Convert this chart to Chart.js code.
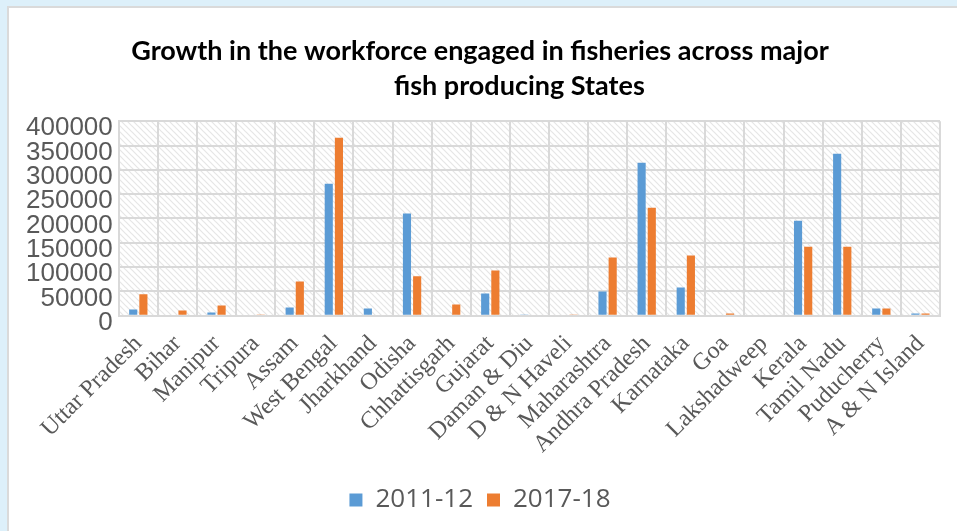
<!DOCTYPE html>
<html>
<head>
<meta charset="utf-8">
<script src="https://cdn.jsdelivr.net/npm/chart.js@4/dist/chart.umd.min.js"></script>
<style>
  html, body { margin: 0; padding: 0; background: #ddf0fa; overflow: hidden; }
  #panel { position: absolute; left: 7px; top: 6px; width: 980px; height: 560px; background: #fff; border: 2px solid #dadada; }
  #wrap { position: absolute; left: 0; top: 0; width: 957px; height: 531px; }
</style>
</head>
<body>
<div id="panel"></div>
<div id="wrap"><canvas id="barChart" width="957" height="531"></canvas></div>
<script>
var states = ['Uttar Pradesh', 'Bihar', 'Manipur', 'Tripura', 'Assam', 'West Bengal', 'Jharkhand', 'Odisha', 'Chhattisgarh', 'Gujarat', 'Daman & Diu', 'D & N Haveli', 'Maharashtra', 'Andhra Pradesh', 'Karnataka', 'Goa', 'Lakshadweep', 'Kerala', 'Tamil Nadu', 'Puducherry', 'A & N Island'];
var workers2011 = [13000, 0, 6800, 0, 17000, 271500, 15000, 210000, 0, 46000, 2700, 0, 50000, 314500, 58000, 0, 0, 195500, 333000, 15000, 4800];
var workers2017 = [44000, 11000, 21000, 2700, 70500, 366000, 0, 81000, 23000, 93000, 0, 2700, 120000, 222000, 124000, 4800, 0, 142000, 142000, 15000, 4800];
var yTicks = [0, 50000, 100000, 150000, 200000, 250000, 300000, 350000, 400000];

// hatched plot background
var pat = document.createElement('canvas');
pat.width = 6; pat.height = 6;
var pc = pat.getContext('2d');
pc.fillStyle = '#ffffff';
pc.fillRect(0, 0, 6, 6);
pc.strokeStyle = '#e6e6e6';
pc.lineWidth = 1.2;
pc.beginPath();
pc.moveTo(0, 0); pc.lineTo(6, 6);
pc.moveTo(-3, 3); pc.lineTo(3, 9);
pc.moveTo(3, -3); pc.lineTo(9, 3);
pc.stroke();

var hatchPlugin = {
    id: 'hatch',
    beforeDraw: function (chart) {
        var a = chart.chartArea;
        var ctx = chart.ctx;
        ctx.save();
        ctx.fillStyle = ctx.createPattern(pat, 'repeat');
        ctx.fillRect(a.left, a.top, a.right - a.left, a.bottom - a.top);
        ctx.restore();
    }
};

var ctxBar = document.getElementById('barChart').getContext('2d');
var barChart = new Chart(ctxBar, {
    type: 'bar',
    data: {
        labels: states,
        datasets: [{
            label: '2011-12',
            data: workers2011,
            backgroundColor: '#5b9bd5',
            categoryPercentage: 0.52,
            barPercentage: 0.8
        }, {
            label: '2017-18',
            data: workers2017,
            backgroundColor: '#ed7d31',
            categoryPercentage: 0.52,
            barPercentage: 0.8
        }]
    },
    options: {
        responsive: false,
        animation: false,
        layout: {
            padding: { left: 20, right: 17, top: 0, bottom: 8 }
        },
        plugins: {
            title: {
                display: true,
                text: ['Growth in the workforce engaged in fisheries across major', '\u00a0\u00a0\u00a0\u00a0\u00a0\u00a0\u00a0\u00a0\u00a0\u00a0\u00a0\u00a0fish producing States'],
                color: '#000',
                font: { family: 'Lato', size: 27, weight: 'bold', lineHeight: 1.3 },
                padding: { top: 34, bottom: 17 }
            },
            legend: {
                position: 'bottom',
                labels: {
                    boxWidth: 13,
                    boxHeight: 13,
                    color: '#595959',
                    padding: 14,
                    font: { family: 'Open Sans', size: 26 }
                }
            },
            tooltip: { enabled: false }
        },
        scales: {
            x: {
                grid: { color: '#d9d9d9', lineWidth: 2, drawTicks: false },
                border: { color: '#d9d9d9', width: 2 },
                ticks: {
                    color: '#595959',
                    font: { family: 'Liberation Serif', size: 24 },
                    minRotation: 45,
                    maxRotation: 45,
                    autoSkip: false,
                    padding: 14
                }
            },
            y: {
                min: 0,
                max: 400000,
                afterBuildTicks: function (axis) {
                    axis.ticks = yTicks.map(function (v) { return { value: v }; });
                },
                grid: { color: '#d9d9d9', lineWidth: 2, drawTicks: false },
                border: { color: '#d9d9d9', width: 2 },
                ticks: {
                    color: '#595959',
                    font: { family: 'Liberation Sans', size: 26 },
                    padding: 6,
                    labelOffset: 7,
                    autoSkip: false,
                    callback: function (v) { return String(v); }
                }
            }
        }
    },
    plugins: [hatchPlugin]
});
</script>
</body>
</html>
